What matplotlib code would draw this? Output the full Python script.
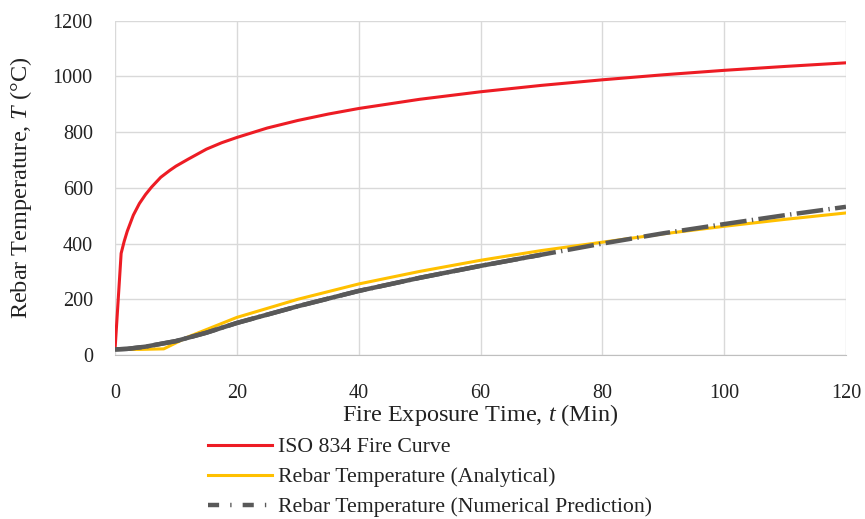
import matplotlib.pyplot as plt
from matplotlib.lines import Line2D

# ISO 834 standard fire curve
t_iso = [0, 1, 1.5, 2, 3, 4, 5, 6, 7.5, 9, 10, 12, 15, 17.5, 20, 25, 30, 35,
         40, 50, 60, 70, 80, 90, 100, 110, 120]
T_iso = [20, 365, 408, 444, 502, 544, 576, 603, 638, 663, 678, 703, 739, 762, 781,
         815, 842, 865, 885, 918, 945, 968, 988, 1006, 1022, 1036, 1049]

# Rebar temperature - analytical
t_ana = [0, 4, 8, 12, 16, 20, 30, 40, 50, 60, 70, 80, 90, 100, 110, 120]
T_ana = [20, 20, 22, 65, 100, 135, 200, 255, 300, 340, 375, 405, 435, 462, 487, 510]

# Rebar temperature - numerical prediction
t_num = [0, 2, 5, 10, 15, 20, 30, 40, 50, 60, 70, 80, 90, 100, 110, 120]
T_num = [20, 22, 30, 50, 80, 115, 175, 230, 277, 320, 360, 400, 437, 470, 502, 532]

plt.rcParams['font.family'] = ['Liberation Serif', 'DejaVu Serif']
plt.rcParams['mathtext.fontset'] = 'custom'
plt.rcParams['mathtext.rm'] = 'Liberation Serif'
plt.rcParams['mathtext.it'] = 'Liberation Serif:italic'

gray = '#595959'
fig = plt.figure(figsize=(8.65, 5.19), dpi=100)
ax = fig.add_axes([0.133, 0.316, 0.845, 0.644])

ax.plot(t_iso, T_iso, color='#ED1C24', linewidth=2.2)
ax.plot(t_ana, T_ana, color='#FFC000', linewidth=2.2)
# dense points in the source make the early part look solid
ax.plot(t_num, T_num, color=gray, linewidth=3.2, dashes=(6, 1.2, 0.3, 1.2))
n_solid = t_num.index(70) + 1
ax.plot(t_num[:n_solid], T_num[:n_solid], color=gray, linewidth=3.2, solid_capstyle='butt')

ax.set_xlim(0, 120)
ax.set_ylim(0, 1200)
ax.set_xticks(range(0, 121, 20))
ax.set_yticks(range(0, 1201, 200))
ax.grid(True, color='#D9D9D9', linewidth=1)
ax.set_axisbelow(True)
for s in ['top', 'right', 'left']:
    ax.spines[s].set_visible(False)
ax.spines['bottom'].set_color('#BFBFBF')
ax.tick_params(length=0, labelsize=14.5, colors='#222222')
ax.tick_params(axis='x', pad=21)
ax.tick_params(axis='y', pad=16)

ax.set_xlabel('Fire Exposure Time, $\\mathit{t}$ (Min)', fontsize=17.5, color='#222222')
ax.set_ylabel('Rebar Temperature, $\\mathit{T}$ (°C)', fontsize=17.5, color='#222222')
ax.xaxis.set_label_coords(0.5, -0.18)
ax.xaxis.label.set_va('center')
ax.yaxis.set_label_coords(-0.128, 0.5)
ax.yaxis.label.set_va('center')

handles = [
    Line2D([], [], color='#ED1C24', linewidth=2.2),
    Line2D([], [], color='#FFC000', linewidth=2.2),
    Line2D([], [], color=gray, linewidth=3.2, dashes=(2.5, 2.5, 0.3, 2.5)),
]
labels = ['ISO 834 Fire Curve', 'Rebar Temperature (Analytical)',
          'Rebar Temperature (Numerical Prediction)']
ax.legend(handles, labels, loc='upper left', bbox_to_anchor=(0.127, -0.245), frameon=False,
          fontsize=15.7, handlelength=2.95, handletextpad=0.28, labelspacing=0.45,
          borderpad=0, borderaxespad=0, labelcolor='#222222')

plt.savefig('out.png', dpi=100)
